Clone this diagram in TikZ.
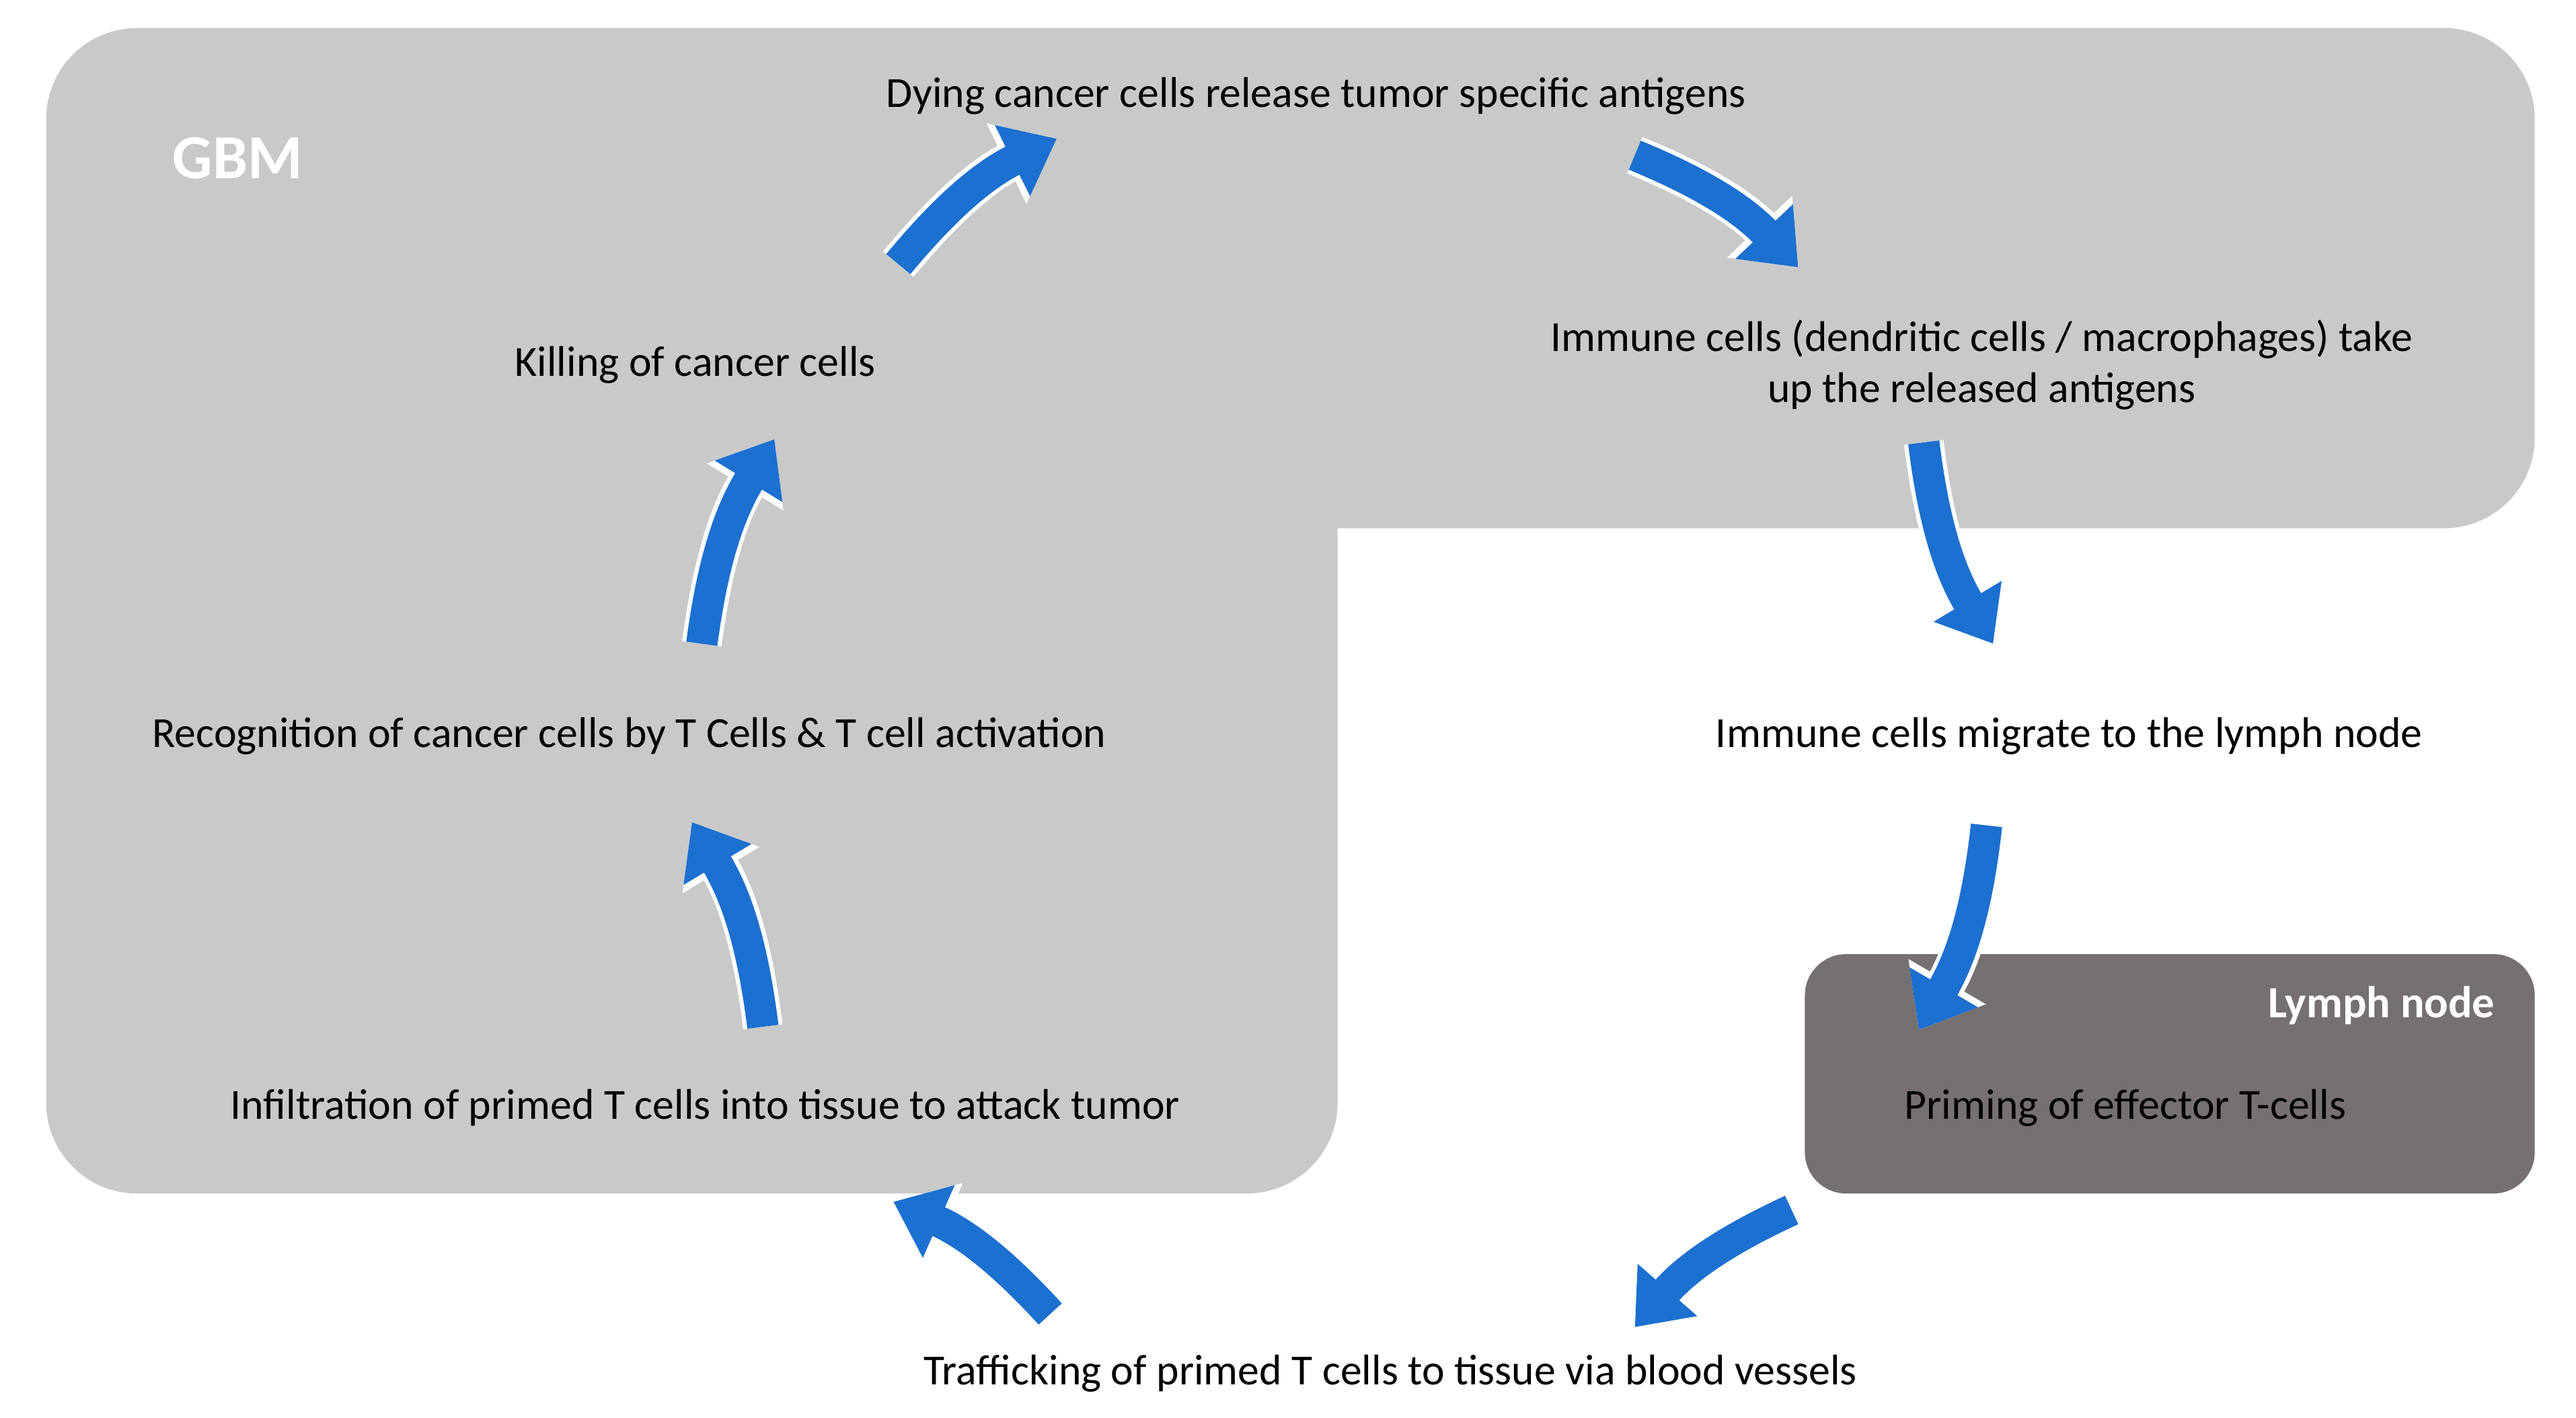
\documentclass[tikz,border=0pt]{standalone}
\usepackage{fontspec}
\setmainfont{Carlito}
\usetikzlibrary{arrows.meta}
\begin{document}
\begin{tikzpicture}[x=1pt,y=-1pt,
  lbl/.style={font=\fontsize{26}{31}\selectfont, align=center, inner sep=0pt},
  hdr/.style={font=\fontsize{38}{44}\selectfont\bfseries, text=white, inner sep=0pt},
  wo/.style={draw=white, line width=24pt, -{Triangle[width=52pt,length=34pt]}},
  bl/.style={draw=arrowblue, line width=19pt, -{Triangle[width=46pt,length=30pt]}}]
\definecolor{gbm}{HTML}{C9C9C9}
\definecolor{lymph}{HTML}{767070}
\definecolor{arrowblue}{HTML}{1C70D0}
\useasboundingbox (0,0) rectangle (1560,859);
\fill[white] (0,0) rectangle (1560,859);
% GBM region
\fill[gbm, rounded corners=55pt] (810,320) -- (810,723) -- (28,723) -- (28,17) -- (1535,17) -- (1535,320) [sharp corners] -- cycle;
% Lymph node
\fill[lymph, rounded corners=25pt] (1093,578) rectangle (1535,723);
% texts
\node[hdr] (gbmlbl) at (144,96) {GBM};
\node[hdr, font=\fontsize{27}{32}\selectfont\bfseries, anchor=east] (lnlbl) at (1511,609) {Lymph node};
\node[lbl] (dying) at (797,58) {Dying cancer cells release tumor specific antigens};
\node[lbl] (immune) at (1200,221) {Immune cells (dendritic cells / macrophages) take\\up the released antigens};
\node[lbl] (kill) at (421,221) {Killing of cancer cells};
\node[lbl] (recog) at (381,446) {Recognition of cancer cells by T Cells \& T cell activation};
\node[lbl] (migr) at (1253,446) {Immune cells migrate to the lymph node};
\node[lbl] (prim) at (1287,671) {Priming of effector T-cells};
\node[lbl] (infil) at (427,671) {Infiltration of primed T cells into tissue to attack tumor};
\node[lbl] (traf) at (842,832) {Trafficking of primed T cells to tissue via blood vessels};
% arrow coordinates
\coordinate (a1s) at (544,160); \coordinate (a1e) at (640,84);
\coordinate (a2s) at (990,94);  \coordinate (a2e) at (1089,162);
\coordinate (a3s) at (1165,268); \coordinate (a3e) at (1207,390);
\coordinate (a4s) at (1203,500); \coordinate (a4e) at (1162,624);
\coordinate (a5s) at (1085,733); \coordinate (a5e) at (990,804);
\coordinate (a6s) at (636,796); \coordinate (a6e) at (541,728);
\coordinate (a7s) at (462,622); \coordinate (a7e) at (419,498);
\coordinate (a8s) at (425,390); \coordinate (a8e) at (469,266);
\foreach \s/\e/\b in {a1s/a1e/left, a2s/a2e/left, a3s/a3e/right, a4s/a4e/left, a5s/a5e/right, a6s/a6e/right, a7s/a7e/right, a8s/a8e/left} {
  \draw[wo] (\s) to[bend \b=12] (\e);
}
\foreach \s/\e/\b in {a1s/a1e/left, a2s/a2e/left, a3s/a3e/right, a4s/a4e/left, a5s/a5e/right, a6s/a6e/right, a7s/a7e/right, a8s/a8e/left} {
  \draw[bl] (\s) to[bend \b=12] (\e);
}
\end{tikzpicture}
\end{document}
